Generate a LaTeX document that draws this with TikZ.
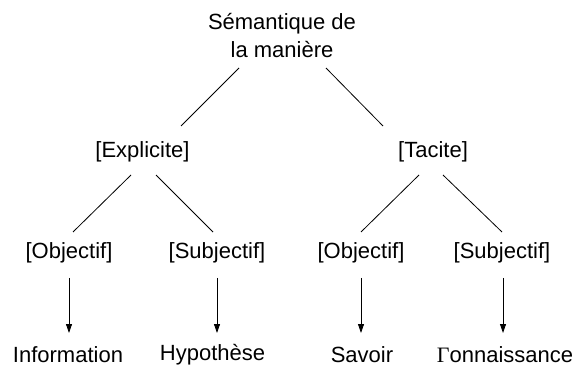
\documentclass[tikz,border=0pt]{standalone}
\usepackage{fontspec}
\setmainfont{Liberation Sans}
\newfontfamily\gammafont{Liberation Serif}
\usetikzlibrary{arrows.meta,calc}
\tikzset{
  lbl/.style={inner sep=0pt, align=center, font=\fontsize{22}{28}\selectfont},
  edge/.style={draw=black, line width=0.8pt},
  arr/.style={draw=black, line width=0.8pt, -{Triangle[width=6pt,length=9pt]}}
}
\begin{document}
\begin{tikzpicture}[x=1pt,y=1pt]
\useasboundingbox (0,0) rectangle (573,367);
\node[lbl] (root) at (282,331) {Sémantique de\\la manière};
\node[lbl] (expl) at (142.5,215) {[Explicite]};
\node[lbl] (tac) at (433,215) {[Tacite]};
\node[lbl] (obj1) at (69,114) {[Objectif]};
\node[lbl] (sub1) at (217,114) {[Subjectif]};
\node[lbl] (obj2) at (361,114) {[Objectif]};
\node[lbl] (sub2) at (502,114) {[Subjectif]};
\node[lbl] (info) at (68,12) {Information};
\node[lbl] (hyp) at (212.5,12) {Hypothèse};
\node[lbl] (sav) at (362,12) {Savoir};
\node[lbl] (con) at (505,12) {{\gammafont Γ}onnaissance};
% tree edges
\draw[edge] ($(root.center)+(-43,-32)$) -- ($(expl.center)+(38.5,26)$);
\draw[edge] ($(root.center)+(44,-32)$) -- ($(tac.center)+(-50,26)$);
\draw[edge] ($(expl.center)+(-11.5,-23)$) -- ($(obj1.center)+(4,21)$);
\draw[edge] ($(expl.center)+(13.5,-23)$) -- ($(sub1.center)+(-4,21)$);
\draw[edge] ($(tac.center)+(-14,-23)$) -- ($(obj2.center)+(0,21)$);
\draw[edge] ($(tac.center)+(10,-23)$) -- ($(sub2.center)+(0,21)$);
% arrows
\draw[arr] ($(obj1.center)+(0,-25)$) -- ($(obj1.center |- info.center)+(0,22)$);
\draw[arr] ($(sub1.center)+(0,-25)$) -- ($(sub1.center |- hyp.center)+(0,22)$);
\draw[arr] ($(obj2.center)+(0,-25)$) -- ($(obj2.center |- sav.center)+(0,22)$);
\draw[arr] ($(sub2.center)+(1,-25)$) -- ($(sub2.center |- con.center)+(1,22)$);
\end{tikzpicture}
\end{document}
